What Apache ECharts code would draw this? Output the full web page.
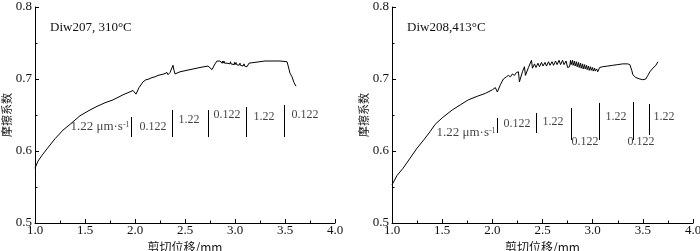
<!DOCTYPE html>
<html><head><meta charset="utf-8">
<script src="https://cdn.jsdelivr.net/npm/echarts@6/dist/echarts.min.js"></script>
<style>html,body{margin:0;padding:0;background:#fff}#c{width:700px;height:251px}</style>
</head><body><div id="c"></div>
<script>
// ---- data ----
const xTicks = [1.0, 1.5, 2.0, 2.5, 3.0, 3.5, 4.0];
const yTicks = [0.5, 0.6, 0.7, 0.8];
const titleLeft = 'Diw207, 310°C';
const titleRight = 'Diw208,413°C';

const curveLeft = [
 [1.00,0.576],[1.03,0.586],[1.07,0.594],[1.12,0.603],[1.20,0.617],[1.28,0.629],[1.35,0.637],
 [1.45,0.649],[1.55,0.657],[1.62,0.662],[1.70,0.667],[1.78,0.671],[1.88,0.678],[1.98,0.684],
 [2.00,0.685],[2.01,0.679],[2.04,0.688],[2.08,0.696],[2.10,0.697],[2.11,0.699],[2.12,0.697],
 [2.14,0.700],[2.15,0.698],[2.17,0.702],[2.18,0.700],[2.20,0.703],[2.21,0.701],[2.23,0.705],
 [2.24,0.703],[2.26,0.706],[2.27,0.704],[2.29,0.707],[2.30,0.705],[2.32,0.709],[2.33,0.706],
 [2.35,0.709],[2.36,0.707],[2.38,0.719],[2.39,0.712],[2.40,0.707],[2.45,0.710],[2.55,0.713],
 [2.65,0.716],[2.73,0.718],[2.75,0.719],[2.77,0.713],[2.80,0.721],[2.82,0.725],
 [2.83,0.723],[2.835,0.726],[2.84,0.723],[2.85,0.725],[2.855,0.723],[2.86,0.725],[2.87,0.722],
 [2.875,0.725],[2.88,0.722],[2.89,0.725],[2.895,0.722],[2.90,0.724],[2.91,0.722],[2.915,0.724],
 [2.92,0.722],[2.93,0.724],[2.935,0.721],[2.94,0.724],[2.95,0.721],[2.955,0.724],[2.96,0.721],
 [2.97,0.723],[2.975,0.721],[2.98,0.723],[2.99,0.720],[2.995,0.723],[3.00,0.720],[3.01,0.723],
 [3.015,0.720],[3.02,0.722],[3.03,0.720],[3.035,0.722],[3.04,0.719],[3.05,0.722],[3.055,0.719],
 [3.06,0.721],[3.07,0.719],[3.075,0.721],[3.08,0.718],[3.09,0.721],[3.095,0.718],[3.10,0.720],
 [3.11,0.718],[3.115,0.720],[3.12,0.717],[3.13,0.719],[3.14,0.722],[3.16,0.724],[3.30,0.725],
 [3.45,0.725],[3.52,0.724],[3.53,0.719],[3.55,0.708],[3.57,0.703],[3.59,0.695],[3.61,0.690]
];
const curveRight = [
 [1.00,0.553],[1.05,0.566],[1.11,0.576],[1.18,0.590],[1.25,0.604],[1.32,0.616],[1.38,0.627],
 [1.43,0.637],[1.50,0.646],[1.60,0.657],[1.68,0.664],[1.76,0.671],[1.85,0.676],[1.93,0.680],
 [2.00,0.685],[2.03,0.688],[2.05,0.682],[2.08,0.692],[2.11,0.700],[2.14,0.703],[2.16,0.705],
 [2.18,0.703],[2.20,0.707],[2.22,0.705],[2.24,0.709],[2.26,0.710],[2.27,0.696],[2.30,0.710],
 [2.32,0.717],[2.33,0.705],[2.36,0.716],[2.39,0.726],[2.40,0.715],[2.42,0.721],[2.435,0.716],
 [2.455,0.722],[2.47,0.717],[2.49,0.723],[2.505,0.718],[2.525,0.723],[2.54,0.718],[2.56,0.724],
 [2.575,0.719],[2.595,0.724],[2.61,0.719],[2.63,0.725],[2.645,0.720],[2.665,0.726],[2.68,0.720],
 [2.70,0.726],[2.715,0.720],[2.735,0.725],[2.75,0.716],[2.77,0.717],[2.78,0.726],[2.785,0.720],
 [2.80,0.726],[2.805,0.719],[2.82,0.725],[2.825,0.718],[2.84,0.724],[2.845,0.717],[2.86,0.723],
 [2.865,0.716],[2.88,0.722],[2.885,0.715],[2.90,0.721],[2.905,0.714],[2.92,0.720],[2.925,0.714],
 [2.94,0.719],[2.945,0.713],[2.96,0.718],[2.965,0.712],[2.98,0.717],[2.985,0.712],[3.00,0.716],
 [3.005,0.711],[3.02,0.715],[3.025,0.711],[3.04,0.714],[3.05,0.710],[3.07,0.716],[3.10,0.717],
 [3.15,0.718],[3.20,0.719],[3.25,0.720],[3.30,0.721],[3.35,0.721],[3.37,0.720],[3.39,0.712],
 [3.40,0.706],[3.43,0.702],[3.47,0.700],[3.50,0.699],[3.53,0.700],[3.55,0.705],[3.57,0.710],
 [3.60,0.715],[3.63,0.719],[3.65,0.724]
];
// divider lines: [x, yTop, yBottom]
const dividersLeft = [[1.96,0.6472,0.6194],[2.37,0.6569,0.6194],[2.73,0.6569,0.6194],[3.11,0.6611,0.6194],[3.49,0.6639,0.6194]];
const dividersRight = [[2.047,0.6458,0.625],[2.436,0.6528,0.625],[2.785,0.6597,0.6153],[3.064,0.6667,0.6153],[3.403,0.6681,0.6153],[3.562,0.6653,0.6222]];
// rate labels: [x, y, text]
const ratesLeft = [[1.65,0.6333,'first'],[2.18,0.6333,'0.122'],[2.54,0.6431,'1.22'],[2.92,0.650,'0.122'],[3.29,0.6472,'1.22'],[3.70,0.650,'0.122']];
const ratesRight = [[1.738,0.625,'first'],[2.246,0.6375,'0.122'],[2.605,0.6403,'1.22'],[2.924,0.6125,'0.122'],[3.233,0.6472,'1.22'],[3.482,0.6125,'0.122'],[3.712,0.6472,'1.22']];
const titlePos = [1.15, 0.7708]; // left edge of title text (data coords)

// ---- chart ----
const serif = '"Liberation Serif", "Times New Roman", serif';
const cjk = '"Noto Sans CJK SC", sans-serif';
function xAxis(i){return {type:'value',gridIndex:i,min:1,max:4,interval:0.5,
  name:'剪切位移/mm',nameLocation:'middle',nameGap:12,
  nameTextStyle:{fontFamily:cjk,fontSize:12,color:'#111'},
  axisLine:{lineStyle:{color:'#000',width:1}},
  axisTick:{inside:true,length:4,lineStyle:{color:'#000'}},
  minorTick:{show:true,splitNumber:2,length:2.5,lineStyle:{color:'#000'}},
  splitLine:{show:false},
  axisLabel:{margin:1,fontFamily:serif,fontSize:13,color:'#111',formatter:v=>v.toFixed(1)}};}
function yAxis(i){return {type:'value',gridIndex:i,min:0.5,max:0.8,interval:0.1,
  name:'摩擦系数',nameLocation:'middle',nameGap:16,
  nameTextStyle:{fontFamily:cjk,fontSize:11,color:'#111'},
  axisLine:{show:true,lineStyle:{color:'#000',width:1}},
  axisTick:{show:true,inside:true,length:4,lineStyle:{color:'#000'}},
  minorTick:{show:true,splitNumber:2,length:2.5,lineStyle:{color:'#000'}},
  splitLine:{show:false},
  axisLabel:{margin:3,fontFamily:serif,fontSize:13,color:'#111',formatter:v=>v.toFixed(1)}};}
const rich = {n:{fontFamily:serif,fontSize:13,color:'#111'},sup:{fontFamily:serif,fontSize:8,color:'#111',verticalAlign:'top',padding:[0,0,5,0]}};
function labelSeries(i, arr){
  return {type:'scatter',xAxisIndex:i,yAxisIndex:i,symbolSize:0,silent:true,
    data:arr.map(d=>({value:[d[0],d[1]],name:d[2]})),
    label:{show:true,position:'inside',fontFamily:serif,fontSize:12,color:'#111',
      formatter:p=>p.name==='first'?'{n|1.22 μm·s}{sup|-1}':p.name,rich:rich}};
}
function curveSeries(i, arr, curve, title){
  return {type:'line',xAxisIndex:i,yAxisIndex:i,data:curve,showSymbol:false,symbol:'none',
    lineStyle:{color:'#000',width:1},silent:true,animation:false,
    markLine:{symbol:'none',silent:true,animation:false,label:{show:false},
      lineStyle:{color:'#000',width:1,type:'solid'},
      data:arr.map(d=>[{coord:[d[0],d[1]]},{coord:[d[0],d[2]]}])},
    markPoint:{symbol:'rect',symbolSize:0,silent:true,animation:false,
      data:[{coord:titlePos,value:title}],
      label:{show:true,position:'right',distance:0,fontFamily:serif,fontSize:13,color:'#111',formatter:title}}};
}
const chart = echarts.init(document.getElementById('c'),null,{renderer:'canvas'});
chart.setOption({
  animation:false,backgroundColor:'#fff',
  grid:[{left:35,right:365,top:7,bottom:28,containLabel:false,outerBoundsMode:'none'},
        {left:392,right:7,top:7,bottom:28,containLabel:false,outerBoundsMode:'none'}],
  xAxis:[xAxis(0),xAxis(1)],
  yAxis:[yAxis(0),yAxis(1)],
  series:[curveSeries(0,dividersLeft,curveLeft,titleLeft),curveSeries(1,dividersRight,curveRight,titleRight),
    labelSeries(0,ratesLeft),labelSeries(1,ratesRight)]
});
</script></body></html>
